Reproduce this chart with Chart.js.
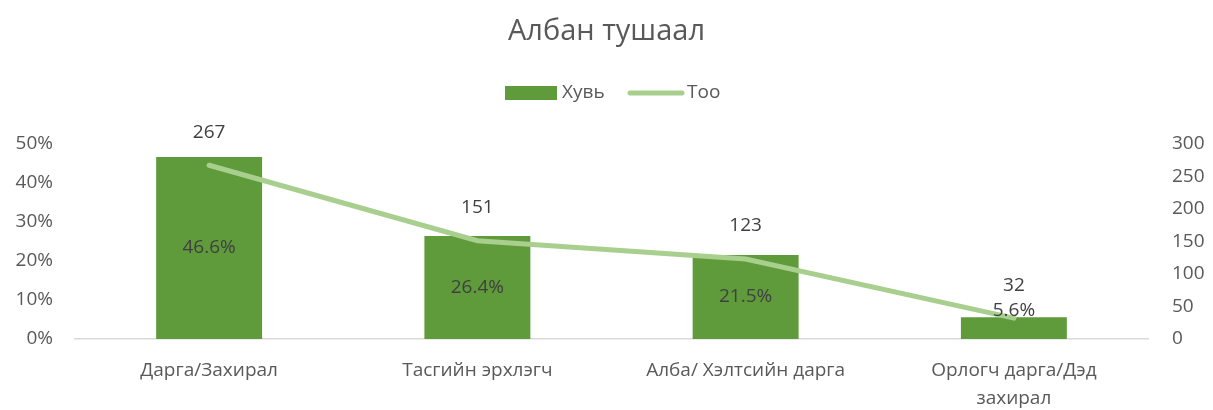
<!DOCTYPE html>
<html>
<head>
<meta charset="utf-8">
<script src="https://cdn.jsdelivr.net/npm/chart.js@4/dist/chart.umd.min.js"></script>
<style>
  html, body { margin: 0; padding: 0; background: #fff; }
  #wrap { width: 1213px; height: 410px; }
</style>
</head>
<body>
<div id="wrap"><canvas id="chart"></canvas></div>
<script>
// Албан тушаал - position breakdown
const categories = [
  "Дарга/Захирал",
  "Тасгийн эрхлэгч",
  "Алба/ Хэлтсийн дарга",
  ["Орлогч дарга/Дэд", "захирал"],
];
const shareValues = [0.466, 0.264, 0.215, 0.056]; // Хувь
const countValues = [267, 151, 123, 32];           // Тоо
const leftTicks = [0, 0.1, 0.2, 0.3, 0.4, 0.5];
const rightTicks = [0, 50, 100, 150, 200, 250, 300];

const FONT = "'Open Sans', 'Noto Sans', sans-serif";
const TEXT = "#595959";
const LABEL = "#404040";

// value labels on bars (centered) and above the line points
const valueLabels = {
  id: "valueLabels",
  afterDatasetsDraw(chart) {
    const ctx = chart.ctx;
    ctx.save();
    ctx.font = "19px " + FONT;
    ctx.fillStyle = LABEL;
    ctx.textAlign = "center";
    ctx.textBaseline = "middle";
    const base = chart.scales.y.getPixelForValue(0);
    chart.getDatasetMeta(0).data.forEach((bar, i) => {
      const mid = Math.min((bar.y + base) / 2, base - 28);
      ctx.fillText((shareValues[i] * 100).toFixed(1) + "%", bar.x, mid);
    });
    chart.getDatasetMeta(1).data.forEach((pt, i) => {
      ctx.fillText(String(countValues[i]), pt.x, pt.y - 33);
    });
    ctx.restore();
  },
};

// legend drawn like the original: filled box + line swatch
const legendRow = {
  id: "legendRow",
  afterDraw(chart) {
    const ctx = chart.ctx;
    const ds = chart.data.datasets;
    const y = 93;
    ctx.save();
    ctx.font = "19px " + FONT;
    ctx.textBaseline = "middle";
    ctx.textAlign = "left";
    ctx.fillStyle = ds[0].backgroundColor;
    ctx.fillRect(505, y - 7, 52, 14);
    ctx.fillStyle = TEXT;
    ctx.fillText(ds[0].label, 562, y);
    ctx.strokeStyle = ds[1].borderColor;
    ctx.lineWidth = 5;
    ctx.lineCap = "round";
    ctx.beginPath();
    ctx.moveTo(630, y);
    ctx.lineTo(682, y);
    ctx.stroke();
    ctx.fillText(ds[1].label, 687, y);
    ctx.restore();
  },
};

new Chart(document.getElementById("chart"), {
  data: {
    labels: categories,
    datasets: [
      {
        type: "bar",
        label: "Хувь",
        data: shareValues,
        backgroundColor: "#5f9a3b",
        yAxisID: "y",
        categoryPercentage: 1,
        barPercentage: 0.395,
        order: 2,
      },
      {
        type: "line",
        label: "Тоо",
        data: countValues,
        borderColor: "#a8cf8d",
        borderWidth: 5,
        borderCapStyle: "round",
        pointRadius: 0,
        tension: 0,
        yAxisID: "y1",
        order: 1,
      },
    ],
  },
  options: {
    responsive: true,
    maintainAspectRatio: false,
    animation: false,
    layout: { padding: { left: 0, right: 0, top: 0, bottom: 0 } },
    plugins: {
      legend: { display: false },
      tooltip: { enabled: false },
      title: {
        display: true,
        text: "Албан тушаал",
        color: TEXT,
        font: { family: FONT, size: 29, weight: "normal" },
        padding: { top: 14, bottom: 95 },
      },
    },
    scales: {
      x: {
        grid: { display: false, drawTicks: false },
        border: { display: true, color: "#d9d9d9", width: 1.5 },
        ticks: {
          color: TEXT,
          font: { family: FONT, size: 19, lineHeight: 1.5 },
          padding: 17,
          maxRotation: 0,
          autoSkip: false,
        },
        afterFit(s) { s.height = 71; },
      },
      y: {
        position: "left",
        min: 0,
        max: 0.5,
        afterBuildTicks(s) { s.ticks = leftTicks.map((v) => ({ value: v })); },
        grid: { display: false, drawTicks: false },
        border: { display: false },
        ticks: {
          color: TEXT,
          font: { family: FONT, size: 19 },
          padding: 22,
          callback: (v) => Math.round(v * 100) + "%",
        },
        afterFit(s) { s.width = 75; },
      },
      y1: {
        position: "right",
        min: 0,
        max: 300,
        afterBuildTicks(s) { s.ticks = rightTicks.map((v) => ({ value: v })); },
        grid: { display: false, drawTicks: false },
        border: { display: false },
        ticks: {
          color: TEXT,
          font: { family: FONT, size: 19 },
          padding: 24,
        },
        afterFit(s) { s.width = 65; },
      },
    },
  },
  plugins: [valueLabels, legendRow],
});
</script>
</body>
</html>
